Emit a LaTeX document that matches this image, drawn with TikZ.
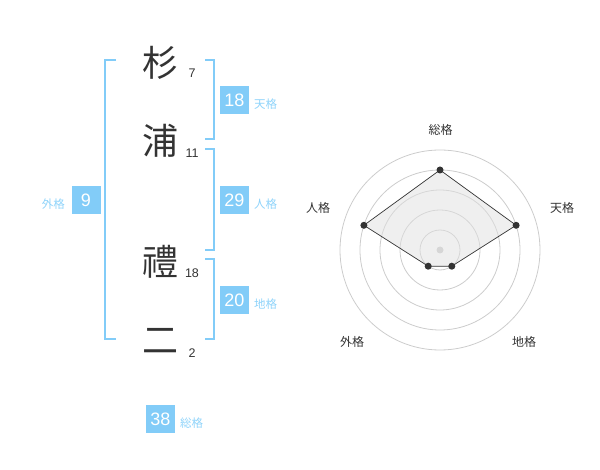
\documentclass[tikz,border=0pt]{standalone}
\usepackage{fontspec}
\usetikzlibrary{calc}
\setmainfont{Liberation Sans}
\newfontfamily\cjk{Noto Sans CJK JP}
\definecolor{brk}{HTML}{82CCF8}
\definecolor{boxc}{HTML}{82CCF8}
\definecolor{lbl}{HTML}{8ED3FA}
\definecolor{ink}{HTML}{333333}
\definecolor{ring}{HTML}{CCCCCC}
\begin{document}
\begin{tikzpicture}[x=1pt,y=-1pt,
  kanji/.style={font=\cjk\fontsize{36}{36}\selectfont, text=ink, inner sep=0pt},
  strokes/.style={font=\fontsize{12.5}{13}\selectfont, text=ink, inner sep=0pt},
  numbox/.style={fill=boxc, text=white, minimum width=29pt, minimum height=28pt, inner sep=0pt, font=\fontsize{18}{18}\selectfont},
  kaku/.style={font=\cjk\fontsize{11.5}{12}\selectfont, text=lbl, inner sep=0pt},
  bracket/.style={draw=brk, line width=1.8pt},
  axlabel/.style={font=\cjk\fontsize{12}{12}\selectfont, text=ink, inner sep=0pt},
  ringc/.style={draw=ring, line width=0.8pt},
  dot/.style={circle, fill=ink, inner sep=0pt, minimum size=7pt}]
\useasboundingbox (0,0) rectangle (600,470);
% kanji
\node[kanji] (k1) at (160,63) {杉};
\node[kanji] (k2) at (160,141) {浦};
\node[kanji] (k3) at (160,262) {禮};
\node[kanji] (k4) at (160,341) {二};
\node[strokes] (s1) at (192,73) {7};
\node[strokes] (s2) at (192,153) {11};
\node[strokes] (s3) at (192,273) {18};
\node[strokes] (s4) at (192,353) {2};
% brackets
\coordinate (L1) at (116,60); \coordinate (L2) at (116,339);
\draw[bracket] (L1) -- (105,60) -- (105,339) -- (L2);
\coordinate (A1) at (205,60); \coordinate (A2) at (205,139);
\draw[bracket] (A1) -- (214,60) -- (214,139) -- (A2);
\coordinate (B1) at (205,149); \coordinate (B2) at (205,250);
\draw[bracket] (B1) -- (214,149) -- (214,250) -- (B2);
\coordinate (C1) at (205,259); \coordinate (C2) at (205,339);
\draw[bracket] (C1) -- (214,259) -- (214,339) -- (C2);
% boxes
\node[numbox] (ten) at (234.5,100) {18};
\node[kaku, anchor=west] (tenl) at (254,104) {天格};
\node[numbox] (jin) at (234.5,200) {29};
\node[kaku, anchor=west] (jinl) at (254,204) {人格};
\node[numbox] (chi) at (234.5,300) {20};
\node[kaku, anchor=west] (chil) at (254,304) {地格};
\node[numbox] (gai) at (86,200) {9};
\node[kaku, anchor=east] (gail) at (65,204) {外格};
\node[numbox] (sou) at (160.5,419) {38};
\node[kaku, anchor=west] (soul) at (180,423) {総格};
% radar
\coordinate (O) at (440,250);
\foreach \r in {20,40,60,80,100} \draw[ringc] (O) circle[radius=\r];
\fill[ring] (O) circle[radius=3.5];
\coordinate (pS) at ($(O)+(0,-80)$);
\coordinate (pT) at ($(O)+(76.1,-24.7)$);
\coordinate (pC) at ($(O)+(11.8,16.2)$);
\coordinate (pG) at ($(O)+(-11.8,16.2)$);
\coordinate (pJ) at ($(O)+(-76.1,-24.7)$);
\draw[ink, line width=0.7pt, fill=black!12, fill opacity=0.5] (pS) -- (pT) -- (pC) -- (pG) -- (pJ) -- cycle;
\foreach \p in {pS,pT,pC,pG,pJ} \node[dot] at (\p) {};
\node[axlabel] (aS) at (440.5,130) {総格};
\node[axlabel] (aT) at (562,208) {天格};
\node[axlabel] (aJ) at (318,208) {人格};
\node[axlabel] (aG) at (352,342) {外格};
\node[axlabel] (aC) at (524,342) {地格};
\end{tikzpicture}
\end{document}
